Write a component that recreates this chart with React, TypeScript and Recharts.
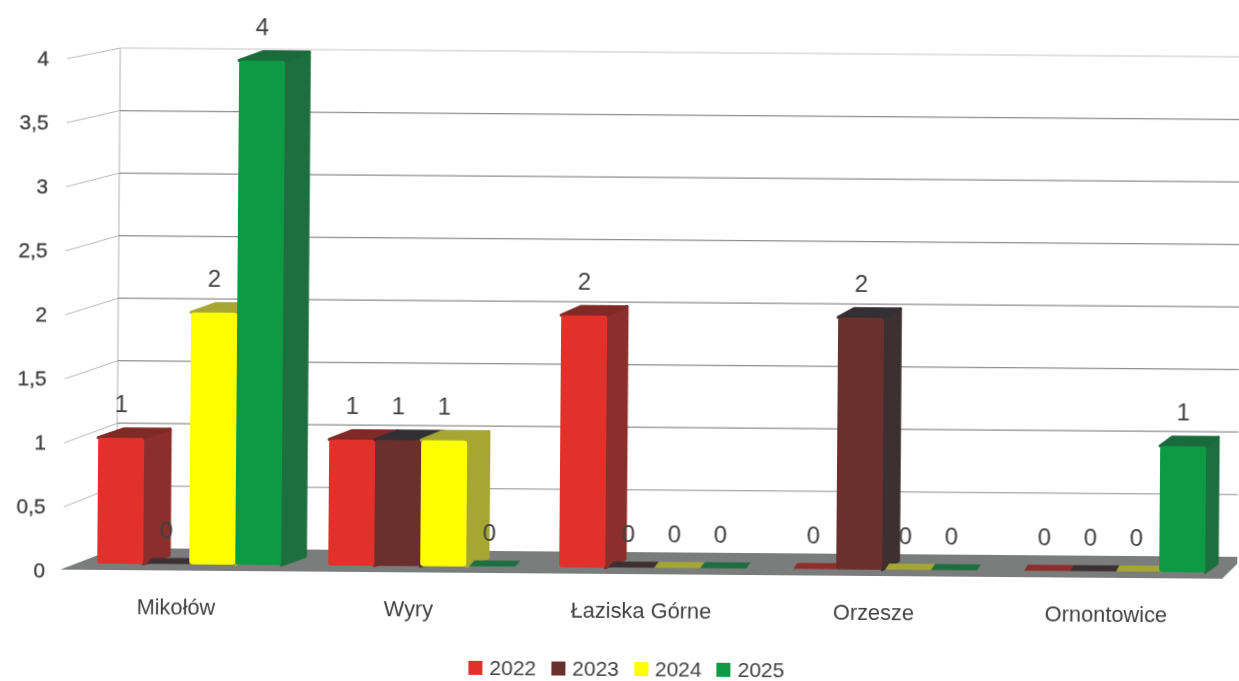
import React from "react";
import { BarChart, Bar, XAxis, YAxis, CartesianGrid, LabelList, Legend } from "recharts";

const categories = ["Mikołów", "Wyry", "Łaziska Górne", "Orzesze", "Ornontowice"];
const values2022 = [1, 1, 2, 0, 0];
const values2023 = [0, 1, 0, 2, 0];
const values2024 = [2, 1, 0, 0, 0];
const values2025 = [4, 0, 0, 0, 1];
const yTicks = [0, 0.5, 1, 1.5, 2, 2.5, 3, 3.5, 4];

const data = categories.map((name, i) => ({
  name,
  y2022: values2022[i],
  y2023: values2023[i],
  y2024: values2024[i],
  y2025: values2025[i],
}));

const FONT = "'Liberation Sans', Arial, sans-serif";
const TEXT = "#404040";
const BASE_Y = 567.5;
const FLOOR_FRONT = 574;
const FLOOR_BACK = 552;

const backY = (y: number) => FLOOR_BACK - ((BASE_Y - y) * 125) / 126;
const frontY = (y: number) => FLOOR_FRONT - ((BASE_Y - y) * 128) / 126;

const gridLine = (p: any) => {
  const y = p.y1;
  const isFloor = y > 540;
  return (
    <g key={`g-${y}`}>
      {isFloor && <polygon points={`62,${FLOOR_FRONT} 118,${FLOOR_BACK} 1246,${FLOOR_BACK} 1224,${FLOOR_FRONT}`} fill="#7b7d7c" />}
      {isFloor && <line x1={118} x2={118} y1={backY(63.5)} y2={FLOOR_BACK} stroke="#b0b0b0" strokeWidth={1} />}
      {!isFloor && <line x1={65} x2={118} y1={frontY(y) + 1} y2={backY(y)} stroke="#b8b8b8" strokeWidth={1} />}
      {!isFloor && <line x1={118} x2={1260} y1={backY(y)} y2={backY(y)} stroke={y < 70 ? "#c4c4c4" : "#8e8e8e"} strokeWidth={1.2} />}
    </g>
  );
};

const YTick = (p: any) => (
  <text x={47} y={frontY(p.y)} textAnchor="end" dominantBaseline="central" fontFamily={FONT} fontSize={21} fill={TEXT} stroke={TEXT} strokeWidth={0.3}>
    {String(p.payload.value).replace(".", ",")}
  </text>
);

const XTick = (p: any) => (
  <text x={p.x - 13 + p.index * 1.5} y={610} textAnchor="middle" dominantBaseline="central" fontFamily={FONT} fontSize={21.8} fill={TEXT}>
    {p.payload.value}
  </text>
);

const depthAt = (x: number, width: number) => 26 - ((x + width - 142) * 14) / 1062;

const Bar3D = (side: string, top: string) => (p: any) => {
  const { x, y, width, height, fill } = p;
  const dx = depthAt(x, width);
  if (!height || height < 1) {
    const skew = dx / 4;
    return (
      <polygon
        points={`${x + 3},${BASE_Y} ${x + width + 3},${BASE_Y} ${x + width + 3 + skew},${BASE_Y - 6} ${x + 3 + skew},${BASE_Y - 6}`}
        fill={side}
      />
    );
  }
  const dy = 9;
  return (
    <g strokeLinejoin="round">
      <polygon
        points={`${x + width},${y} ${x + width + dx},${y - dy} ${x + width + dx},${y + height - dy} ${x + width},${y + height}`}
        fill={side}
        stroke={side}
        strokeWidth={3}
      />
      <polygon
        points={`${x},${y} ${x + dx},${y - dy} ${x + width + dx},${y - dy} ${x + width},${y}`}
        fill={top}
        stroke={top}
        strokeWidth={3}
      />
      <rect x={x} y={y} width={width} height={height} fill={fill} rx={3} />
    </g>
  );
};

const ValueLabel = (p: any) => (
  <text
    x={p.x + p.width / 2}
    y={(p.height > 0 ? p.y : BASE_Y) - 34}
    textAnchor="middle"
    dominantBaseline="central"
    fontFamily={FONT}
    fontSize={24}
    fill={TEXT}
  >
    {p.value}
  </text>
);

const LegendContent = (p: any) => (
  <div style={{ display: "flex", justifyContent: "center", alignItems: "center", height: 18, lineHeight: "18px", paddingLeft: 34, fontFamily: FONT, fontSize: 21, color: TEXT }}>
    {(p.payload || []).map((e: any) => (
      <span key={e.value} style={{ display: "inline-flex", alignItems: "center", height: 18, marginRight: 15 }}>
        <span style={{ width: 14, height: 14, background: e.color, marginRight: 7, display: "inline-block" }} />
        {e.value}
      </span>
    ))}
  </div>
);

const series = [
  { key: "y2022", name: "2022", fill: "#e2302b", side: "#8c2f2c", top: "#7f2a27" },
  { key: "y2023", name: "2023", fill: "#6b2f2d", side: "#3c3032", top: "#333033" },
  { key: "y2024", name: "2024", fill: "#ffff00", side: "#a5a732", top: "#a5a732" },
  { key: "y2025", name: "2025", fill: "#0c9a42", side: "#1e6f40", top: "#1a6a3c" },
];

export default function App() {
  return (
    <div style={{ position: "absolute", left: 0, top: 0, width: 1239, height: 681, overflow: "hidden", background: "#fff" }}>
      <div style={{ width: 1239, height: 681, transform: "rotate(0.45deg)", transformOrigin: "620px 340px", filter: "blur(0.4px)" }}>
        <BarChart
          width={1239}
          height={681}
          data={data}
          margin={{ top: 63.5, right: 8.5, bottom: 0, left: 0 }}
          barCategoryGap={23.5}
          barGap={0}
        >
          <CartesianGrid vertical={false} horizontal={gridLine} />
          <XAxis dataKey="name" height={85.5} axisLine={false} tickLine={false} tick={XTick} interval={0} />
          <YAxis width={75.5} domain={[0, 4]} ticks={yTicks} axisLine={false} tickLine={false} tick={YTick} />
          <Legend verticalAlign="bottom" content={LegendContent} wrapperStyle={{ left: 0, width: 1239, top: 660, height: 18 }} />
          {series.map((s) => (
            <Bar key={s.key} dataKey={s.key} name={s.name} fill={s.fill} shape={Bar3D(s.side, s.top)} isAnimationActive={false}>
              <LabelList dataKey={s.key} content={ValueLabel} />
            </Bar>
          ))}
        </BarChart>
      </div>
    </div>
  );
}
